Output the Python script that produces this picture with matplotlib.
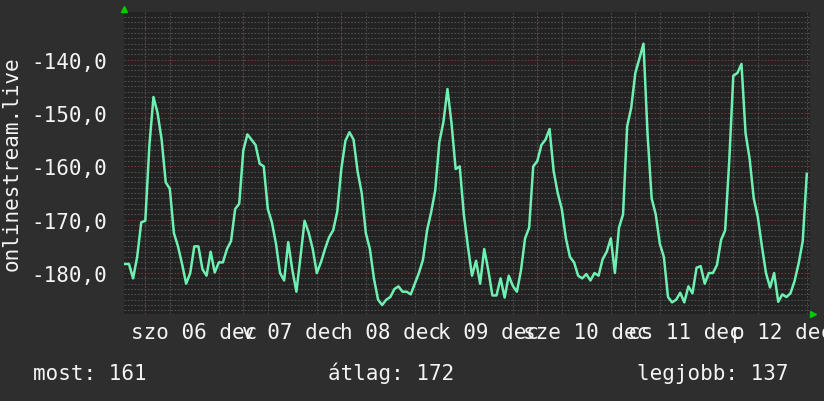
import numpy as np
import matplotlib
matplotlib.use("Agg")
import matplotlib.pyplot as plt
from matplotlib.ticker import FixedLocator, MultipleLocator

# hourly samples, x = hours since szo 06 dec 00:00
start_hour = -5
rank = [178.3, 178.3, 181, 177, 170.5,
        170.2, 156, 147, 150, 155, 163, 164.2, 172.5, 175, 178.3, 182, 180,
        175, 175, 179.3, 180.5, 176, 179.9, 178, 178, 175.5, 174, 168, 167,
        157, 154, 155, 156, 159.5, 160, 168, 170.5, 174.5, 180, 181.4, 174.2,
        179.4, 183.5, 177, 170.2, 172.4, 175.5, 180, 178, 175.5, 173.3, 172, 168.5,
        160.5, 155.2, 153.6, 155, 161, 165, 172.5, 175.5, 181.1, 185, 186, 185,
        184.5, 183, 182.5, 183.5, 183.5, 184, 182, 180, 177.5, 172, 168.6, 164.5,
        155.5, 151.7, 145.5, 152, 160.5, 160, 169, 175, 180.5, 177.7, 182, 175.5,
        179.5, 184.2, 184.2, 181, 184.6, 180.5, 182.4, 183.5, 179.5, 173.5, 171.5, 160,
        159, 156, 155, 153, 160.9, 165, 168, 173.5, 177, 178, 180.5, 181,
        180.2, 181.4, 180, 180.5, 177.4, 176, 173.5, 180, 171.5, 169, 152.5, 149,
        142.5, 139.8, 137, 154, 166, 169, 174.5, 177, 184.5, 185.5, 185, 183.7,
        185.5, 182.5, 183.8, 179, 178.7, 182, 180, 180, 178.5, 173.8, 172, 159,
        143, 142.5, 140.8, 153.8, 158.6, 166, 169.5, 175, 180, 182.7, 180, 185.4,
        184, 184.5, 183.8, 181.5, 178.2, 174, 161.4]
hours = start_hour + np.arange(len(rank))
values = -np.array(rank)

day_hours = [12, 36, 60, 84, 108, 132, 156]
day_labels = ["szo 06 dec", "v 07 dec", "h 08 dec", "k 09 dec",
              "sze 10 dec", "cs 11 dec", "p 12 dec"]
ytick_values = [-180, -170, -160, -150, -140]
ylabel = "onlinestream.live"
stat_labels = ["most: 161", "átlag: 172", "legjobb: 137"]
stat_x = [33, 328, 637]

bg = "#2e2e2e"
canvas = "#222222"
fg = "#f4f4f4"
plt.rcParams["font.family"] = "DejaVu Sans Mono"
plt.rcParams["font.size"] = 15

W, H = 824, 402
fig = plt.figure(figsize=(W / 100, H / 100), dpi=100, facecolor=bg)
ax = fig.add_axes([124 / W, 87 / H, 686 / W, 302 / H], facecolor=canvas)

ax.set_xlim(-5.22, 162.78)
ax.set_ylim(-187.68, -131.06)

# grid
ax.xaxis.set_minor_locator(MultipleLocator(6))
ax.yaxis.set_minor_locator(MultipleLocator(1))
ax.grid(which="minor", color="#4e4e4e", linestyle=(0, (1.5, 1.5)), linewidth=0.8)
for h in range(0, 163, 24):
    ax.axvline(h, color="#7a3434", linestyle=(0, (1.5, 1.5)), linewidth=0.8, zorder=1)
for v in ytick_values:
    ax.axhline(v, color="#7a3434", linestyle=(0, (1.5, 1.5)), linewidth=0.8, zorder=1)

ax.plot(hours, values, color="#6ef0b2", linewidth=1.8, zorder=3)

ax.xaxis.set_major_locator(FixedLocator(day_hours))
ax.set_xticklabels(day_labels)
ax.yaxis.set_major_locator(FixedLocator(ytick_values))
ax.set_yticklabels([f"{v:.1f}".replace(".", ",") for v in ytick_values])
ax.tick_params(which="both", length=0, colors=fg, labelsize=15)
ax.tick_params(axis="x", pad=6)
ax.tick_params(axis="y", pad=12)
ax.set_ylabel(ylabel, color=fg, fontsize=15)
ax.yaxis.set_label_coords((22 - 124) / 686, 0.5)

for s in ax.spines.values():
    s.set_visible(False)

# axis arrows
ax.plot([124 / W], [1 - 10 / H], transform=fig.transFigure, marker="^",
        ms=5, color="#00cc00", clip_on=False, linestyle="none")
ax.plot([813 / W], [1 - 315 / H], transform=fig.transFigure, marker=">",
        ms=5, color="#00cc00", clip_on=False, linestyle="none")

for label, x in zip(stat_labels, stat_x):
    fig.text(x / W, 1 - 380 / H, label, color=fg, fontsize=15, va="baseline", ha="left")

fig.savefig("out.png", dpi=100, facecolor=bg)
